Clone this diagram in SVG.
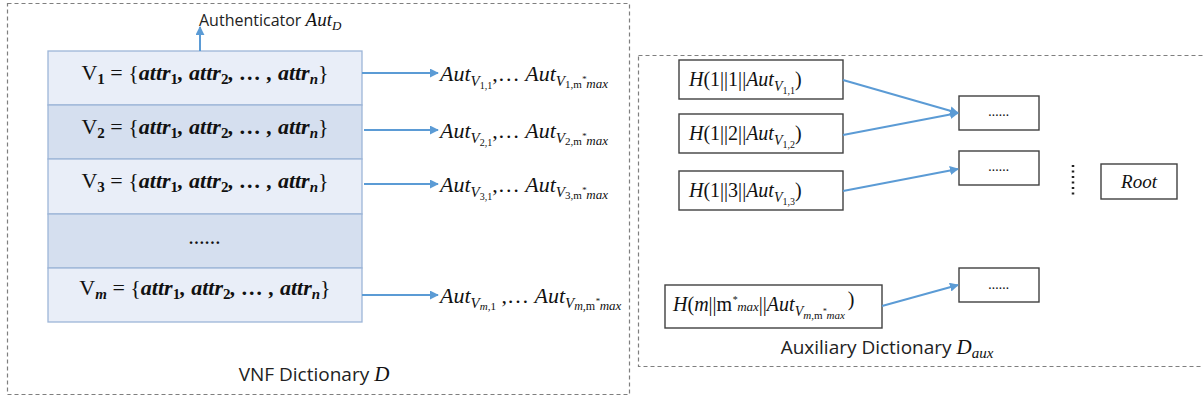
<svg xmlns="http://www.w3.org/2000/svg" width="1203" height="401" viewBox="0 0 1203 401">
<style>
.frame{fill:none;stroke:#7f7f7f;stroke-width:1.2;stroke-dasharray:4 3}
.rowL{fill:#e9eef8;stroke:#9db6d8;stroke-width:1.3}
.rowD{fill:#d5dfef;stroke:#9db6d8;stroke-width:1.3}
.box{fill:#fff;stroke:#404040;stroke-width:1.4}
.conn{stroke:#5b9bd5;stroke-width:2;fill:none;marker-end:url(#ah)}
.m{font-family:"Liberation Serif","DejaVu Serif",serif;font-style:italic;fill:#111}
.mb{font-family:"Liberation Serif","DejaVu Serif",serif;font-style:italic;font-weight:bold;fill:#111}
.up{font-style:normal}
.s{font-family:"Open Sans","Liberation Sans",sans-serif;fill:#222}
</style>
<defs>
<marker id="ah" viewBox="0 0 10 10" refX="9" refY="5" markerWidth="4.5" markerHeight="4.5" orient="auto" markerUnits="strokeWidth">
<path d="M0,0 L10,5 L0,10 z" fill="#5b9bd5"/>
</marker>
</defs>
<rect class="frame" x="7.5" y="3.5" width="622" height="391"/>
<rect class="frame" x="638.5" y="55.5" width="570" height="311"/>

<g id="table">
<rect class="rowL" x="48" y="51" width="314" height="54"/>
<rect class="rowD" x="48" y="105" width="314" height="54"/>
<rect class="rowL" x="48" y="159" width="314" height="55"/>
<rect class="rowD" x="48" y="214" width="314" height="54"/>
<rect class="rowL" x="48" y="268" width="314" height="54"/>
</g>

<g id="row1"><text class="mb" x="205" y="80" font-size="22" text-anchor="middle"><tspan class="up" font-weight="normal">V</tspan><tspan class="up" font-size="15" dy="4">1</tspan><tspan dy="-4" class="up" font-weight="normal"> = {</tspan>attr<tspan class="up" font-size="15" dy="4">1</tspan><tspan dy="-4">, attr</tspan><tspan class="up" font-size="15" dy="4">2</tspan><tspan dy="-4">, … , attr</tspan><tspan font-size="15" dy="4">n</tspan><tspan dy="-4" class="up" font-weight="normal">}</tspan></text></g>
<g id="row2"><text class="mb" x="205" y="134" font-size="22" text-anchor="middle"><tspan class="up" font-weight="normal">V</tspan><tspan class="up" font-size="15" dy="4">2</tspan><tspan dy="-4" class="up" font-weight="normal"> = {</tspan>attr<tspan class="up" font-size="15" dy="4">1</tspan><tspan dy="-4">, attr</tspan><tspan class="up" font-size="15" dy="4">2</tspan><tspan dy="-4">, … , attr</tspan><tspan font-size="15" dy="4">n</tspan><tspan dy="-4" class="up" font-weight="normal">}</tspan></text></g>
<g id="row3"><text class="mb" x="205" y="188" font-size="22" text-anchor="middle"><tspan class="up" font-weight="normal">V</tspan><tspan class="up" font-size="15" dy="4">3</tspan><tspan dy="-4" class="up" font-weight="normal"> = {</tspan>attr<tspan class="up" font-size="15" dy="4">1</tspan><tspan dy="-4">, attr</tspan><tspan class="up" font-size="15" dy="4">2</tspan><tspan dy="-4">, … , attr</tspan><tspan font-size="15" dy="4">n</tspan><tspan dy="-4" class="up" font-weight="normal">}</tspan></text></g>
<g id="row4"><text class="mb" x="205" y="244" font-size="16" text-anchor="middle">……</text></g>
<g id="rowm"><text class="mb" x="205" y="295" font-size="22" text-anchor="middle"><tspan class="up" font-weight="normal">V</tspan><tspan font-size="15" dy="4">m</tspan><tspan dy="-4" class="up" font-weight="normal"> = {</tspan>attr<tspan class="up" font-size="15" dy="4">1</tspan><tspan dy="-4">, attr</tspan><tspan class="up" font-size="15" dy="4">2</tspan><tspan dy="-4">, … , attr</tspan><tspan font-size="15" dy="4">n</tspan><tspan dy="-4" class="up" font-weight="normal">}</tspan></text></g>

<g id="auth"><text class="s" x="199" y="26" font-size="16">Authenticator <tspan class="m" font-size="19">Aut</tspan><tspan class="m" font-size="13" dy="4">D</tspan></text></g>

<g id="aut1"><text class="m" x="440" y="81" font-size="22">Aut<tspan font-size="15" dy="5">V</tspan><tspan class="up" font-size="10" dy="3">1,1</tspan><tspan dy="-8" class="up">,… </tspan>Aut<tspan font-size="15" dy="5">V</tspan><tspan class="up" font-size="11" dy="2">1,m</tspan><tspan font-size="9" dy="-6">*</tspan><tspan font-size="13" dy="6">max</tspan></text></g>
<g id="aut2"><text class="m" x="440" y="138" font-size="22">Aut<tspan font-size="15" dy="5">V</tspan><tspan class="up" font-size="10" dy="3">2,1</tspan><tspan dy="-8" class="up">,… </tspan>Aut<tspan font-size="15" dy="5">V</tspan><tspan class="up" font-size="11" dy="2">2,m</tspan><tspan font-size="9" dy="-6">*</tspan><tspan font-size="13" dy="6">max</tspan></text></g>
<g id="aut3"><text class="m" x="440" y="192" font-size="22">Aut<tspan font-size="15" dy="5">V</tspan><tspan class="up" font-size="10" dy="3">3,1</tspan><tspan dy="-8" class="up">,… </tspan>Aut<tspan font-size="15" dy="5">V</tspan><tspan class="up" font-size="11" dy="2">3,m</tspan><tspan font-size="9" dy="-6">*</tspan><tspan font-size="13" dy="6">max</tspan></text></g>
<g id="autm"><text class="m" x="440" y="303" font-size="22">Aut<tspan font-size="15" dy="5">V</tspan><tspan font-size="11" dy="2">m,</tspan><tspan class="up" font-size="11">1</tspan><tspan dy="-7" class="up"> ,… </tspan>Aut<tspan font-size="15" dy="5">V</tspan><tspan font-size="12" dy="2">m,</tspan><tspan class="up" font-size="12">m</tspan><tspan font-size="9" dy="-6">*</tspan><tspan font-size="13" dy="6">max</tspan></text></g>

<g id="h11"><rect class="box" x="679" y="60" width="164" height="39"/><text class="m" x="689" y="86" font-size="20">H<tspan class="up">(1||1||</tspan>Aut<tspan font-size="14" dy="5">V</tspan><tspan font-size="10" dy="3" class="up">1,1</tspan><tspan dy="-8" class="up">)</tspan></text></g>
<g id="h12"><rect class="box" x="679" y="114" width="164" height="39"/><text class="m" x="689" y="140" font-size="20">H<tspan class="up">(1||2||</tspan>Aut<tspan font-size="14" dy="5">V</tspan><tspan font-size="10" dy="3" class="up">1,2</tspan><tspan dy="-8" class="up">)</tspan></text></g>
<g id="h13"><rect class="box" x="679" y="171" width="164" height="39"/><text class="m" x="689" y="197" font-size="20">H<tspan class="up">(1||3||</tspan>Aut<tspan font-size="14" dy="5">V</tspan><tspan font-size="10" dy="3" class="up">1,3</tspan><tspan dy="-8" class="up">)</tspan></text></g>
<g id="hm"><rect class="box" x="665" y="285" width="217" height="43"/><text class="m" x="673" y="311" font-size="20">H<tspan class="up">(</tspan>m<tspan class="up">||m</tspan><tspan font-size="10" dy="-8">*</tspan><tspan font-size="13" dy="8">max</tspan><tspan class="up">||</tspan>Aut<tspan font-size="14" dy="5">V</tspan><tspan font-size="11" dy="3">m,</tspan><tspan font-size="11" class="up">m</tspan><tspan font-size="8" dy="-5">*</tspan><tspan font-size="11" dy="5">max</tspan><tspan dy="-13" dx="3" class="up">)</tspan></text></g>

<g id="n1"><rect class="box" x="959" y="96" width="80" height="34"/><text class="m" x="999" y="116" font-size="14" text-anchor="middle" font-style="normal">......</text></g>
<g id="n2"><rect class="box" x="959" y="151" width="80" height="34"/><text class="m" x="999" y="171" font-size="14" text-anchor="middle" font-style="normal">......</text></g>
<g id="n3"><rect class="box" x="959" y="268" width="80" height="34"/><text class="m" x="999" y="289" font-size="14" text-anchor="middle" font-style="normal">......</text></g>
<g id="root"><rect class="box" x="1101" y="164" width="76" height="35"/><text class="m" x="1139" y="188" font-size="19" text-anchor="middle">Root</text></g>
<g id="vdots"><line x1="1073" y1="165" x2="1073" y2="198" stroke="#222" stroke-width="2.5" stroke-dasharray="2 3.5"/></g>

<g id="connectors">
<line class="conn" x1="200" y1="51" x2="200" y2="27"/>
<line class="conn" x1="362" y1="73" x2="438" y2="73"/>
<line class="conn" x1="364" y1="130" x2="438" y2="130"/>
<line class="conn" x1="364" y1="184" x2="438" y2="184"/>
<line class="conn" x1="362" y1="295" x2="438" y2="295"/>
<line class="conn" x1="843" y1="80" x2="958" y2="113"/>
<line class="conn" x1="843" y1="135" x2="958" y2="113"/>
<line class="conn" x1="843" y1="191" x2="958" y2="169"/>
<line class="conn" x1="882" y1="306" x2="958" y2="285"/>
</g>

<g id="labels">
<text class="s" x="314" y="381" font-size="19" text-anchor="middle">VNF Dictionary <tspan class="m" font-size="21">D</tspan></text>
<text class="s" x="887" y="354" font-size="19" text-anchor="middle">Auxiliary Dictionary <tspan class="m" font-size="21">D</tspan><tspan class="m" font-size="15" dy="4">aux</tspan></text>
</g>
</svg>
